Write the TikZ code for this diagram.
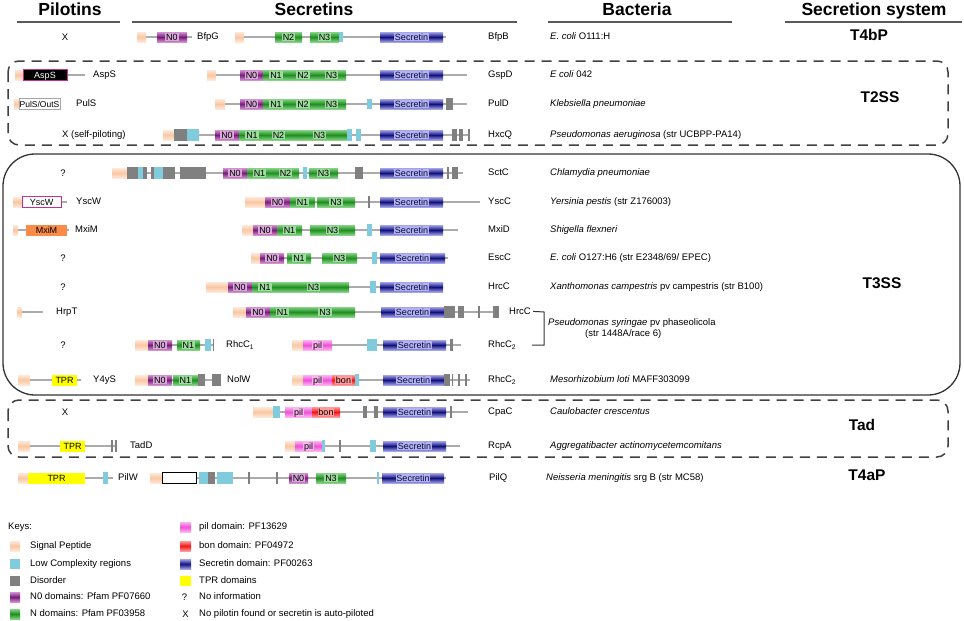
\documentclass[tikz,border=0pt]{standalone}
\usepackage{fontspec}
\setmainfont{Liberation Sans}
\usetikzlibrary{positioning}

\definecolor{bbgray}{HTML}{ABABAB}
\definecolor{sigd}{HTML}{F9C7A2}
\definecolor{sigl}{HTML}{FDE8DA}
\definecolor{lowc}{HTML}{80CCDC}
\definecolor{disc}{HTML}{808080}
\definecolor{nzd}{HTML}{7A1A7A}
\definecolor{nzl}{HTML}{D092D0}
\definecolor{ngd}{HTML}{1E8E1E}
\definecolor{ngl}{HTML}{86D286}
\definecolor{secd}{HTML}{10107C}
\definecolor{secl}{HTML}{A4A4EA}
\definecolor{pild}{HTML}{F050D8}
\definecolor{pill}{HTML}{FBB4F0}
\definecolor{bond}{HTML}{F01414}
\definecolor{bonl}{HTML}{FF9A9A}
\definecolor{tprc}{HTML}{FFFF00}
\definecolor{mxic}{HTML}{F88C48}
\definecolor{aspm}{HTML}{C0308C}

\tikzset{
  bbone/.style={draw=bbgray, line width=2pt},
  tkbar/.style={draw=disc, line width=1.4pt},
  dsig/.style={top color=sigl, bottom color=sigl, middle color=sigd},
  dlc/.style={fill=lowc},
  ddis/.style={fill=disc},
  dnzero/.style={top color=nzl, bottom color=nzl, middle color=nzd},
  dn/.style={top color=ngl, bottom color=ngl, middle color=ngd},
  dsec/.style={top color=secl, bottom color=secl, middle color=secd},
  dpil/.style={top color=pill, bottom color=pill, middle color=pild},
  dbon/.style={top color=bonl, bottom color=bonl, middle color=bond},
  domlab/.style={font=\fontsize{9}{10}\selectfont, inner xsep=0.8pt, inner ysep=1.1pt, text height=6.4pt, text depth=0pt},
  dnzero lab/.style={domlab, fill=nzl!80},
  dn lab/.style={domlab, fill=ngl!80},
  dsec lab/.style={domlab, fill=secl!85, text=secd!60!black},
  dpil lab/.style={domlab, fill=pill},
  dbon lab/.style={domlab, fill=bonl},
  dsig lab/.style={domlab},
  lbl/.style={font=\fontsize{9.5}{11}\selectfont, inner sep=0pt, anchor=mid west},
  spc/.style={lbl},
  hdr/.style={font=\bfseries\fontsize{17.5}{20}\selectfont, inner sep=0pt, anchor=base},
  sys/.style={font=\bfseries\fontsize{15.5}{18}\selectfont, inner sep=0pt, anchor=base},
  hline/.style={draw=black!65, line width=1.3pt},
  pbox/.style={minimum height=11pt, inner sep=0pt, font=\fontsize{9}{10}\selectfont, text height=6.4pt, text depth=0pt},
  grpdash/.style={draw=black!75, line width=1.5pt, dash pattern=on 10pt off 7pt},
  grpsolid/.style={draw=black!80, line width=1.3pt},
  brack/.style={draw=black!80, line width=1pt},
  keytxt/.style={font=\fontsize{9.5}{11}\selectfont, inner sep=0pt, anchor=mid west}
}

% domain box: style, x1, x2, y, label
\newcommand{\dom}[5]{%
  \path[#1] (#2,#4-5) rectangle (#3,#4+5);
  \if\relax\detokenize{#5}\relax\else
    \node[#1 lab] at ({(#2+#3)/2},#4) {#5};\fi}
% backbone: x1, x2, y
\newcommand{\bbn}[3]{\draw[bbone] (#1,#3) -- (#2,#3);}
% thin bar: x, y
\newcommand{\tk}[2]{\draw[tkbar] (#1,#2-6) -- (#1,#2+6);}

\begin{document}
\begin{tikzpicture}[x=1pt,y=-1pt]
\useasboundingbox (0,0) rectangle (964,621);

% headers
\node[hdr] (hPil) at (70,15) {Pilotins};
\node[hdr] (hSec) at (314,15) {Secretins};
\node[hdr] (hBac) at (637,15) {Bacteria};
\node[hdr] (hSys) at (874,15) {Secretion system};
\draw[hline] (17,22) -- (120,22);
\draw[hline] (132,22) -- (517,22);
\draw[hline] (548,22) -- (732,22);
\draw[hline] (785,22) -- (962,22);

% group frames
\draw[grpdash, rounded corners=11pt] (8,61) rectangle (948,145);
\draw[grpsolid, rounded corners=32pt] (3,154) rectangle (960,395);
\draw[grpdash, rounded corners=11pt] (8,400) rectangle (948,457);

% T4bP
\node[lbl, anchor=center] (pBfp) at (65,37) {X};
\bbn{137}{192}{37}
\dom{dsig}{137}{146}{37}{}
\dom{dnzero}{157}{187}{37}{N0}
\node[lbl] (bfpG) at (197,37) {BfpG};
\bbn{235}{446}{37}
\dom{dsig}{235}{244}{37}{}
\dom{dn}{275}{302}{37}{N2}
\dom{dn}{310}{339}{37}{N3}
\dom{dlc}{339}{343}{37}{}
\dom{dsec}{380}{443}{37}{Secretin}
\node[lbl] (bfpB) at (488,37) {BfpB};
\node[spc] (bBfp) at (550,37) {\textit{E. coli} O111:H};
\node[sys] (sT4b) at (869,40) {T4bP};

% T2SS
\dom{dsig}{15}{23}{75}{}
\bbn{67}{85}{75}
\node[pbox, fill=black, draw=aspm, line width=1pt, text=white, minimum width=44pt] (aspSbox) at (45,75) {AspS};
\node[lbl] (aspS) at (93,75) {AspS};
\bbn{207}{467}{75}
\dom{dsig}{207}{216}{75}{}
\dom{dnzero}{240}{263}{75}{N0}
\dom{dn}{263}{289}{75}{N1}
\dom{dn}{289}{317}{75}{N2}
\dom{dn}{317}{346}{75}{N3}
\dom{dsec}{380}{443}{75}{Secretin}
\node[lbl] (gspD) at (488,75) {GspD};
\node[spc] (bGsp) at (550,75) {\textit{E coli} 042};

\dom{dsig}{14}{19}{104}{}
\node[pbox, fill=white, draw=black!35, line width=0.8pt, minimum width=41pt, font=\fontsize{8.5}{10}\selectfont] (pulSbox) at (39.5,104) {PulS/OutS};
\node[lbl] (pulS) at (76,104) {PulS};
\bbn{215}{467}{104}
\dom{dsig}{215}{225}{104}{}
\dom{dnzero}{240}{263}{104}{N0}
\dom{dn}{263}{289}{104}{N1}
\dom{dn}{289}{317}{104}{N2}
\dom{dn}{317}{346}{104}{N3}
\dom{dlc}{367}{372}{104}{}
\dom{dsec}{380}{443}{104}{Secretin}
\path[ddis] (446,98) rectangle (453,110);
\node[lbl] (pulD) at (488,104) {PulD};
\node[spc] (bPul) at (550,104) {\textit{Klebsiella pneumoniae}};

\node[lbl] (pHxc) at (62,135) {X (self-piloting)};
\bbn{163}{470}{135}
\dom{dsig}{163}{174}{135}{}
\path[ddis] (174,129) rectangle (187,141);
\path[dlc] (187,129) rectangle (199,141);
\dom{dnzero}{215}{239}{135}{N0}
\dom{dn}{239}{265}{135}{N1}
\dom{dn}{265}{292}{135}{N2}
\dom{dn}{292}{347}{135}{N3}
\path[dlc] (347,129) rectangle (352,141);
\path[dlc] (356,129) rectangle (361,141);
\dom{dsec}{380}{443}{135}{Secretin}
\path[ddis] (452,129) rectangle (457,141);
\path[ddis] (459,129) rectangle (463,141);
\tk{469}{135}
\node[lbl] (hxcQ) at (488,135) {HxcQ};
\node[spc] (bHxc) at (550,135) {\textit{Pseudomonas aeruginosa} (str UCBPP-PA14)};
\node[sys] (sT2) at (880,102) {T2SS};

% T3SS
\node[lbl, anchor=center] (pSct) at (63,173) {?};
\bbn{112}{463}{173}
\dom{dsig}{112}{127}{173}{}
\path[ddis] (127,167) rectangle (147,179);
\path[dlc] (138,167) rectangle (143,179);
\path[ddis] (151,167) rectangle (175,179);
\path[dlc] (154,167) rectangle (163,179);
\path[ddis] (180,167) rectangle (206,179);
\dom{dnzero}{223}{247}{173}{N0}
\dom{dn}{247}{272}{173}{N1}
\dom{dn}{272}{299}{173}{N2}
\path[dlc] (303,167) rectangle (307,179);
\dom{dn}{309}{338}{173}{N3}
\path[ddis] (355,167) rectangle (363,179);
\dom{dsec}{380}{443}{173}{Secretin}
\tk{448}{173}
\path[ddis] (452,167) rectangle (458,179);
\node[lbl] (sctC) at (488,173) {SctC};
\node[spc] (bSct) at (550,173) {\textit{Chlamydia pneumoniae}};

\dom{dsig}{13}{22}{202}{}
\bbn{61}{67}{202}
\node[pbox, fill=white, draw=aspm, line width=1pt, minimum width=39pt] (yscWbox) at (41.5,202) {YscW};
\node[lbl] (yscW) at (76,202) {YscW};
\bbn{245}{480}{202}
\dom{dsig}{245}{265}{202}{}
\dom{dnzero}{265}{290}{202}{N0}
\dom{dn}{290}{315}{202}{N1}
\dom{dn}{317}{355}{202}{N3}
\tk{369}{202}
\dom{dsec}{380}{443}{202}{Secretin}
\node[lbl] (yscC) at (488,202) {YscC};
\node[spc] (bYsc) at (550,202) {\textit{Yersinia pestis} (str Z176003)};

\dom{dsig}{13}{18}{230}{}
\bbn{18}{69}{230}
\node[pbox, fill=mxic, minimum width=41pt] (mxiMbox) at (46.5,230) {MxiM};
\node[lbl] (mxiM) at (75,230) {MxiM};
\bbn{242}{458}{230}
\dom{dsig}{242}{253}{230}{}
\dom{dnzero}{253}{277}{230}{N0}
\dom{dn}{277}{302}{230}{N1}
\dom{dn}{310}{355}{230}{N3}
\path[dlc] (367,224) rectangle (372,236);
\dom{dsec}{380}{443}{230}{Secretin}
\node[lbl] (mxiD) at (488,230) {MxiD};
\node[spc] (bMxi) at (550,230) {\textit{Shigella flexneri}};

\node[lbl, anchor=center] (pEsc) at (63,258) {?};
\bbn{251}{448}{258}
\dom{dsig}{251}{260}{258}{}
\dom{dnzero}{260}{284}{258}{N0}
\dom{dn}{287}{311}{258}{N1}
\dom{dn}{322}{357}{258}{N3}
\path[dlc] (372,252) rectangle (377,264);
\dom{dsec}{380}{445}{258}{Secretin}
\node[lbl] (escC) at (488,258) {EscC};
\node[spc] (bEsc) at (550,258) {\textit{E. coli} O127:H6 (str E2348/69/ EPEC)};

\node[lbl, anchor=center] (pHrx) at (63,287) {?};
\bbn{206}{443}{287}
\dom{dsig}{206}{228}{287}{}
\dom{dnzero}{228}{252}{287}{N0}
\dom{dn}{252}{278}{287}{N1}
\dom{dn}{278}{349}{287}{N3}
\path[dlc] (370,281) rectangle (376,293);
\dom{dsec}{380}{443}{287}{Secretin}
\node[lbl] (hrcCx) at (488,287) {HrcC};
\node[spc] (bXan) at (550,287) {\textit{Xanthomonas campestris} pv campestris (str B100)};
\node[sys] (sT3) at (882,288) {T3SS};

\dom{dsig}{17}{22}{312}{}
\bbn{22}{43}{312}
\node[lbl] (hrpT) at (56,312) {HrpT};
\bbn{233}{499}{312}
\dom{dsig}{233}{246}{312}{}
\dom{dnzero}{246}{270}{312}{N0}
\dom{dn}{270}{295}{312}{N1}
\dom{dn}{295}{355}{312}{N3}
\dom{dsec}{381}{444}{312}{Secretin}
\path[ddis] (444,306) rectangle (455,318);
\path[ddis] (458,306) rectangle (464,318);
\tk{479}{312}
\path[ddis] (493,306) rectangle (499,318);
\node[lbl] (hrcCp) at (509,312) {HrcC};
\node[spc] (bPsy) at (548,323) {\textit{Pseudomonas syringae} pv phaseolicola};
\node[spc] (bPsy2) at (585,334) {(str 1448A/race 6)};

\node[lbl, anchor=center] (pRhc) at (63,345) {?};
\bbn{135}{213}{345}
\dom{dsig}{135}{148}{345}{}
\dom{dnzero}{148}{172}{345}{N0}
\dom{dn}{177}{200}{345}{N1}
\path[dlc] (205,339) rectangle (211,351);
\tk{213.5}{345}
\node[lbl] (rhcCa) at (226,345) {RhcC\textsubscript{1}};
\bbn{292}{461}{345}
\dom{dsig}{292}{303}{345}{}
\dom{dpil}{303}{332}{345}{pil}
\path[dlc] (367,339) rectangle (377,351);
\dom{dsec}{383}{446}{345}{Secretin}
\path[ddis] (450,339) rectangle (453,351);
\node[lbl] (rhcCb) at (488,345) {RhcC\textsubscript{2}};
\draw[brack] (hrcCp.east) ++(2,0) -- (544,312) -- (544,345) -- (532,345);

\dom{dsig}{18}{30}{380}{}
\bbn{30}{81}{380}
\node[pbox, fill=tprc, minimum width=25pt] (y4yStpr) at (64.5,380) {TPR};
\node[lbl] (y4yS) at (93,380) {Y4yS};
\bbn{135}{221}{380}
\dom{dsig}{135}{148}{380}{}
\dom{dnzero}{148}{172}{380}{N0}
\dom{dn}{173}{198}{380}{N1}
\path[ddis] (198,374) rectangle (205,386);
\path[ddis] (212,374) rectangle (221,386);
\node[lbl] (nolW) at (227,380) {NolW};
\bbn{292}{470}{380}
\dom{dsig}{292}{303}{380}{}
\dom{dpil}{303}{332}{380}{pil}
\dom{dbon}{332}{355}{380}{bon}
\path[dlc] (355,374) rectangle (359,386);
\dom{dsec}{383}{444}{380}{Secretin}
\path[ddis] (444,374) rectangle (450,386);
\tk{452.5}{380}
\tk{459}{380}
\tk{466}{380}
\node[lbl] (rhcCm) at (488,380) {RhcC\textsubscript{2}};
\node[spc] (bMes) at (550,380) {\textit{Mesorhizobium loti} MAFF303099};

% Tad
\node[lbl, anchor=center] (pCpa) at (65,412) {X};
\bbn{253}{468}{412}
\dom{dsig}{253}{273}{412}{}
\path[dlc] (273,406) rectangle (280,418);
\dom{dpil}{285}{312}{412}{pil}
\dom{dbon}{312}{340}{412}{bon}
\path[ddis] (363,406) rectangle (367,418);
\path[ddis] (374,406) rectangle (378,418);
\dom{dsec}{383}{446}{412}{Secretin}
\tk{451}{412}
\node[lbl] (cpaC) at (488,412) {CpaC};
\node[spc] (bCau) at (550,412) {\textit{Caulobacter crescentus}};

\dom{dsig}{18}{30}{446}{}
\bbn{30}{116}{446}
\node[pbox, fill=tprc, minimum width=25pt] (tadDtpr) at (72.5,446) {TPR};
\tk{112}{446}
\tk{116}{446}
\node[lbl] (tadD) at (130,446) {TadD};
\bbn{285}{460}{446}
\dom{dsig}{285}{295}{446}{}
\dom{dpil}{295}{322}{446}{pil}
\path[dlc] (322,440) rectangle (324.5,452);
\tk{340}{446}
\path[dlc] (370,440) rectangle (376,452);
\dom{dsec}{383}{446}{446}{Secretin}
\node[lbl] (rcpA) at (488,446) {RcpA};
\node[spc] (bAgg) at (550,446) {\textit{Aggregatibacter actinomycetemcomitans}};
\node[sys] (sTad) at (862,430) {Tad};

% T4aP
\dom{dsig}{18}{28}{478}{}
\bbn{28}{113}{478}
\node[pbox, fill=tprc, minimum width=57pt] (pilWtpr) at (56.5,478) {TPR};
\path[dlc] (103,472) rectangle (108,484);
\node[lbl] (pilW) at (118,478) {PilW};
\bbn{150}{446}{478}
\dom{dsig}{150}{162}{478}{}
\node[pbox, fill=white, draw=black, line width=1pt, minimum width=34pt] (pilQbox) at (179,478) {};
\path[dlc] (199,472) rectangle (208,484);
\path[ddis] (208,472) rectangle (215,484);
\path[dlc] (217,472) rectangle (233,484);
\tk{249}{478}
\tk{277}{478}
\dom{dnzero}{289}{308}{478}{N0}
\dom{dn}{316}{346}{478}{N3}
\draw[tkbar, draw=lowc, line width=2pt] (378,472) -- (378,484);
\dom{dsec}{382}{444}{478}{Secretin}
\node[lbl] (pilQ) at (489,478) {PilQ};
\node[spc] (bNei) at (546,478) {\textit{Neisseria meningitis} srg B (str MC58)};
\node[sys] (sT4a) at (867,480) {T4aP};

% keys
\node[keytxt] (keys) at (8,527) {Keys:};
\path[dsig] (10,541) rectangle (20,551);
\node[keytxt] (kSig) at (30,546) {Signal Peptide};
\path[dlc] (10,559) rectangle (20,569);
\node[keytxt] (kLow) at (30,564) {Low Complexity regions};
\path[ddis] (10,576) rectangle (20,586);
\node[keytxt] (kDis) at (30,581) {Disorder};
\path[dnzero] (10,592) rectangle (20,602);
\node[keytxt] (kNz) at (30,597) {N0 domains: Pfam PF07660};
\path[dn] (10,609) rectangle (20,619);
\node[keytxt] (kN) at (30,614) {N domains: Pfam PF03958};
\path[dpil] (180,522) rectangle (191,532);
\node[keytxt] (kPil) at (199,527) {pil domain: PF13629};
\path[dbon] (180,541) rectangle (191,551);
\node[keytxt] (kBon) at (199,546) {bon domain: PF04972};
\path[dsec] (180,559) rectangle (191,569);
\node[keytxt] (kSec) at (199,564) {Secretin domain: PF00263};
\path[fill=tprc] (180,576) rectangle (191,586);
\node[keytxt] (kTpr) at (199,581) {TPR domains};
\node[keytxt, anchor=center] (kQm) at (184.5,597) {?};
\node[keytxt] (kNo) at (199,597) {No information};
\node[keytxt, anchor=center] (kX) at (185.5,614) {X};
\node[keytxt] (kAuto) at (199,614) {No pilotin found or secretin is auto-piloted};
\end{tikzpicture}
\end{document}
